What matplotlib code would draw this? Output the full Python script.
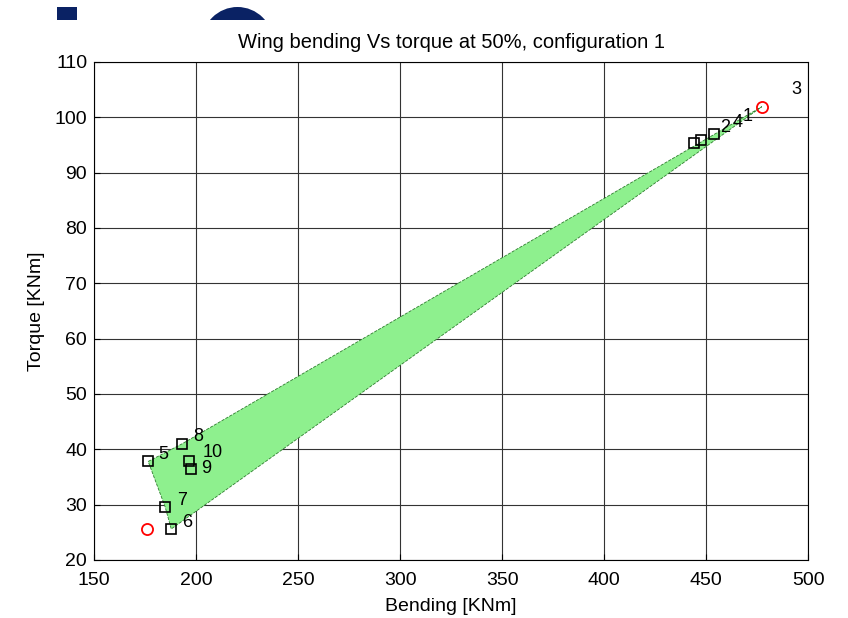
import numpy as np
import matplotlib
matplotlib.use("Agg")
import matplotlib.pyplot as plt
from matplotlib.patches import Rectangle, Circle

plt.rcParams['font.family'] = ['Liberation Sans', 'DejaVu Sans']

# load cases (bending, torque) in KNm
case_ids = ['5', '8', '10', '9', '7', '6']
case_bending = [176.5, 193.2, 196.6, 197.6, 184.8, 187.8]
case_torque = [37.8, 41.0, 37.9, 36.5, 29.6, 25.6]

# cluster of cases at the top right
top_bending = [444.0, 447.4, 453.7]
top_torque = [95.4, 95.9, 97.0]

# label positions for every case number
label_text = ['5', '8', '10', '9', '7', '6', '2', '4', '1', '3']
label_x = [184.0, 201.0, 208.0, 205.0, 193.0, 195.5, 459.5, 465.5, 470.5, 494.0]
label_y = [39.0, 42.3, 39.5, 36.6, 30.7, 26.7, 98.1, 99.0, 100.1, 105.0]

# extreme points (red circles)
ext_bending = [176.0, 477.3]
ext_torque = [25.6, 101.9]

# envelope polygon
env_bending = [176.5, 193.2, 477.3, 187.8, 184.8]
env_torque = [37.8, 41.0, 101.9, 25.6, 29.6]

fig = plt.figure(figsize=(8.48, 6.18), dpi=100)

# slide decorations behind the plot
navy = '#0a2264'
fig.patches.append(Rectangle((0.57, 5.98), 0.20, 0.13, transform=fig.dpi_scale_trans,
                             facecolor=navy, edgecolor='none'))
dome = Circle((2.375, 5.754), 0.356, transform=fig.dpi_scale_trans,
              facecolor=navy, edgecolor='none')
clip = Rectangle((0, 5.98), 8.48, 0.3, transform=fig.dpi_scale_trans)
dome.set_clip_path(clip)
fig.patches.append(dome)

ax = fig.add_axes([0.111, 0.0939, 0.842, 0.806])

ax.fill(env_bending, env_torque, facecolor='#8ef08e', edgecolor='#2e7d2e',
        linestyle='--', linewidth=0.6, zorder=2)
ax.plot(case_bending, case_torque, 's', markersize=7, markerfacecolor='none',
        markeredgecolor='black', markeredgewidth=1.2, zorder=3)
ax.plot(top_bending, top_torque, 's', markersize=7, markerfacecolor='none',
        markeredgecolor='black', markeredgewidth=1.2, zorder=3)
ax.plot(ext_bending, ext_torque, 'o', markersize=8, markerfacecolor='none',
        markeredgecolor='red', markeredgewidth=1.3, zorder=3)
for t, x, y in zip(label_text, label_x, label_y):
    ax.text(x, y, t, fontsize=13, ha='center', va='center', zorder=4)

ax.set_xlim(150, 500)
ax.set_ylim(20, 110)
ax.set_xticks(np.arange(150, 501, 50))
ax.set_yticks(np.arange(20, 111, 10))
ax.grid(True, color='#333333', linewidth=0.8)
ax.set_axisbelow(True)
ax.tick_params(direction='in', labelsize=14, length=4)
ax.tick_params(axis='x', pad=9)
ax.tick_params(axis='y', pad=5)
ax.set_xlabel('Bending [KNm]', fontsize=14, labelpad=6)
ax.set_ylabel('Torque [KNm]', fontsize=14, labelpad=7)
ax.set_title('Wing bending Vs torque at 50%, configuration 1', fontsize=14.5, pad=10)

fig.savefig('out.png', dpi=100)
